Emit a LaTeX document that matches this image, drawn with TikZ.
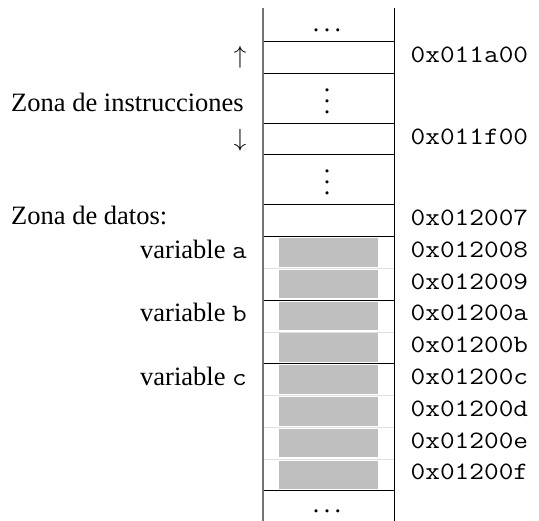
\documentclass[tikz,border=0pt]{standalone}
\usepackage{fontspec}
\setmainfont{Liberation Serif}
\definecolor{bytegray}{HTML}{BFBFBF}
\newcommand{\mytt}[1]{\scalebox{1.14}[1]{\ttfamily\fontsize{25}{30}\selectfont #1}}
\begin{document}
\begin{tikzpicture}[x=1pt,y=-1pt,
  lbl/.style={font=\fontsize{26.5}{30}\selectfont, inner sep=0pt},
  addr/.style={inner sep=0pt, anchor=base west},
  dotnode/.style={font=\fontsize{26}{30}\selectfont, inner sep=0pt, anchor=center},
  bytebox/.style={fill=bytegray, draw=none},
  sepline/.style={line width=1pt, black},
  faintline/.style={line width=0.6pt, black!12},
  leftline/.style={line width=1.4pt, black!55},
  rightline/.style={line width=1pt, black}]
\useasboundingbox (0,0) rectangle (539,521);

% column boundary coordinates
\coordinate (TL) at (263,8);
\coordinate (BL) at (263,521);
\coordinate (TR) at (394,8);
\coordinate (BR) at (394,521);

% byte boxes
\foreach \k in {0,...,7}{
  \pgfmathsetmacro{\ya}{236.5+31.8*\k+1.6}
  \pgfmathsetmacro{\yb}{236.5+31.8*(\k+1)-1.6}
  \fill[bytebox] (279,\ya) rectangle (378,\yb);
}

% faint lines between bytes inside a variable
\foreach \y in {268.3,331.9,395.5,427.3,459.1}{
  \draw[faintline] (263,\y) -- (394,\y);
}

% separator lines
\foreach \y in {42,73.5,123.5,155,204.5,236.5,300.1,363.7,490.9}{
  \draw[sepline] (263,\y) -- (394,\y);
}

% column sides
\draw[leftline] (TL) -- (BL);
\draw[rightline] (TR) -- (BR);

% dots
\node[dotnode] (dtop) at (327,30.5) {.\hspace{4.5pt}.\hspace{4.5pt}.};
\foreach \i/\y in {1/90,2/101,3/112}{
  \node[dotnode] (dva\i) at (327,\y) {.};
}
\foreach \i/\y in {1/171.5,2/182.3,3/193.1}{
  \node[dotnode] (dvb\i) at (327,\y) {.};
}
\node[dotnode] (dbot) at (327,511.7) {.\hspace{4.5pt}.\hspace{4.5pt}.};

% addresses
\node[addr] (a1) at (410.5,62.7) {\mytt{0x011a00}};
\node[addr] (a2) at (410.5,144.2) {\mytt{0x011f00}};
\node[addr] (a3) at (410.5,225.5) {\mytt{0x012007}};
\foreach \k/\t in {0/0x012008,1/0x012009,2/0x01200a,3/0x01200b,4/0x01200c,5/0x01200d,6/0x01200e,7/0x01200f}{
  \pgfmathsetmacro{\yc}{236.5+31.8*(\k+0.5)+5}
  \node[addr] (b\k) at (410.5,\yc) {\mytt{\t}};
}

% left labels
\node[lbl, anchor=center] (up) at (240,57.5) {$\uparrow$};
\node[lbl, anchor=base west] (zi) at (11,112) {Zona de instrucciones};
\node[lbl, anchor=center] (down) at (240,140.5) {$\downarrow$};
\node[lbl, anchor=base west] (zd) at (11,225) {Zona de datos:};
\node[lbl, anchor=base east] (va) at (247,258.5) {variable \mytt{a}};
\node[lbl, anchor=base east] (vb) at (247,322) {variable \mytt{b}};
\node[lbl, anchor=base east] (vc) at (247,386) {variable \mytt{c}};
\end{tikzpicture}
\end{document}
